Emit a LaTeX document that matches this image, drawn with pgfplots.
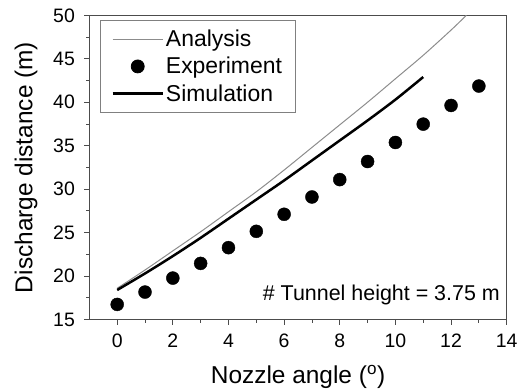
\documentclass[border=0pt]{standalone}
\usepackage{pgfplots}
\pgfplotsset{compat=1.18}
\usepackage{fontspec}
\setmainfont{Liberation Sans}
\definecolor{axgray}{gray}{0.3}
\definecolor{angray}{gray}{0.55}
\pgfplotsset{
  longline/.style={legend image code/.code={\draw[#1] (0bp,0bp) -- (50bp,0bp);}},
  longmark/.style={legend image code/.code={\draw[mark repeat=2,mark phase=2,#1] plot coordinates {(0bp,0bp) (25bp,0bp) (50bp,0bp)};}},
}
\begin{document}
\begin{tikzpicture}
\begin{axis}[
  scale only axis,
  width=417bp, height=304bp,
  xmin=-1, xmax=14, ymin=15, ymax=50,
  xtick={0,2,...,14}, ytick={15,20,...,50},
  minor x tick num=1, minor y tick num=1,
  axis line style={axgray, line width=1pt},
  tick style={axgray, line width=0.8pt},
  tick align=outside,
  xtick pos=bottom, ytick pos=left,
  major tick length=5bp, minor tick length=3bp,
  /pgf/number format/assume math mode=true,
  ticklabel style={font=\fontsize{19.5}{21}\selectfont},
  xticklabel style={yshift=-6bp},
  yticklabel style={xshift=-6bp},
  xlabel={Nozzle angle (\textsuperscript{o})},
  ylabel={Discharge distance (m)},
  label style={font=\fontsize{24.5}{26}\selectfont},
  xlabel style={yshift=-11bp},
  ylabel style={yshift=9bp},
  legend style={at={(rel axis cs:0.0256,0.985)}, anchor=north west,
    draw=gray, line width=0.8pt, font=\fontsize{23}{25}\selectfont,
    inner xsep=11bp, inner ysep=8bp, row sep=5bp, fill=white},
  legend cell align=left,
]
\addplot[angray, line width=1pt, smooth, longline]
  coordinates {(0,18.6) (1,20.7) (2,22.9) (3,25.1) (4,27.4) (5,29.7) (6,32.2) (7,34.8) (8,37.4) (9,40.0) (10,42.7) (11,45.4) (12,48.3) (12.55,50)};
\addlegendentry{Analysis}
\addplot[only marks, mark=*, mark size=6.5bp, black, longmark]
  coordinates {(0,16.74) (1,18.16) (2,19.77) (3,21.46) (4,23.27) (5,25.15) (6,27.11) (7,29.1) (8,31.1) (9,33.18) (10,35.37) (11,37.48) (12,39.63) (13,41.86)};
\addlegendentry{Experiment}
\addplot[black, line width=2.5pt, smooth, longline]
  coordinates {(0,18.4) (1,20.3) (2,22.3) (3,24.4) (4,26.6) (5,28.8) (6,31.0) (7,33.3) (8,35.6) (9,37.9) (10,40.3) (11,42.9)};
\addlegendentry{Simulation}
\node[anchor=base east, font=\fontsize{21.5}{23}\selectfont, inner sep=0pt] at (axis cs:13.76,17.2) {\# Tunnel height = 3.75 m};
\coordinate (sw) at (rel axis cs:0,0);
\coordinate (ne) at (rel axis cs:1,1);
\end{axis}
\pgfresetboundingbox
\path ([shift={(-89.3bp,-71bp)}]sw) rectangle ([shift={(16.3bp,15.3bp)}]ne);
\end{tikzpicture}
\end{document}
